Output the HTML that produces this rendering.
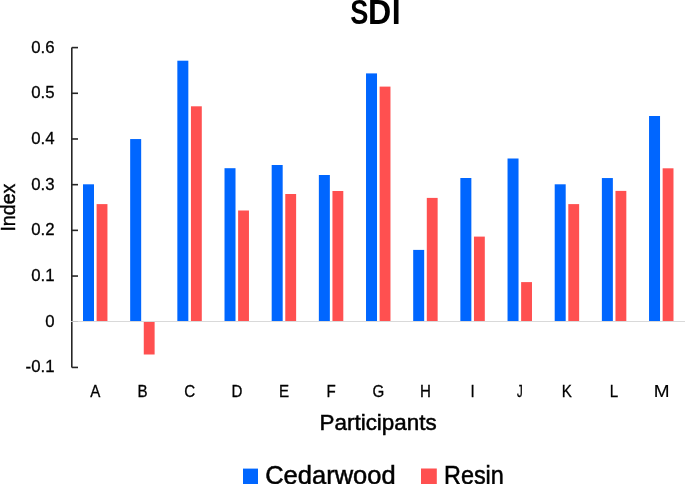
<!DOCTYPE html>
<html><head><meta charset="utf-8"><style>
html,body{margin:0;padding:0;background:#fff;width:685px;height:484px;overflow:hidden}
svg{display:block;will-change:transform}
text{font-family:"Liberation Sans",sans-serif;fill:#000}
</style></head><body>
<svg width="685" height="484" viewBox="0 0 685 484">
<rect width="685" height="484" fill="#fff"/>
<g font-weight="bold" font-size="34.2"><text transform="translate(350.2,24.4) scale(0.795,1)">S</text><text transform="translate(368.1,24.4) scale(0.94,1)">D</text><text transform="translate(391.8,24.4) scale(0.94,1)">I</text></g>
<rect x="83.00" y="184.30" width="11.0" height="136.70" fill="#0066FF"/><rect x="96.60" y="204.10" width="10.85" height="116.90" fill="#FF5050"/><rect x="130.17" y="139.05" width="11.0" height="181.95" fill="#0066FF"/><rect x="143.77" y="322.00" width="10.85" height="32.50" fill="#FF5050"/><rect x="177.34" y="60.70" width="11.0" height="260.30" fill="#0066FF"/><rect x="190.94" y="106.30" width="10.85" height="214.70" fill="#FF5050"/><rect x="224.51" y="168.20" width="11.0" height="152.80" fill="#0066FF"/><rect x="238.11" y="210.50" width="10.85" height="110.50" fill="#FF5050"/><rect x="271.68" y="165.00" width="11.0" height="156.00" fill="#0066FF"/><rect x="285.28" y="194.00" width="10.85" height="127.00" fill="#FF5050"/><rect x="318.85" y="175.00" width="11.0" height="146.00" fill="#0066FF"/><rect x="332.45" y="191.00" width="10.85" height="130.00" fill="#FF5050"/><rect x="366.02" y="73.40" width="11.0" height="247.60" fill="#0066FF"/><rect x="379.62" y="86.60" width="10.85" height="234.40" fill="#FF5050"/><rect x="413.19" y="249.90" width="11.0" height="71.10" fill="#0066FF"/><rect x="426.79" y="197.90" width="10.85" height="123.10" fill="#FF5050"/><rect x="460.36" y="178.00" width="11.0" height="143.00" fill="#0066FF"/><rect x="473.96" y="236.60" width="10.85" height="84.40" fill="#FF5050"/><rect x="507.53" y="158.50" width="11.0" height="162.50" fill="#0066FF"/><rect x="521.13" y="282.10" width="10.85" height="38.90" fill="#FF5050"/><rect x="554.70" y="184.30" width="11.0" height="136.70" fill="#0066FF"/><rect x="568.30" y="204.10" width="10.85" height="116.90" fill="#FF5050"/><rect x="601.87" y="178.05" width="11.0" height="142.95" fill="#0066FF"/><rect x="615.47" y="190.90" width="10.85" height="130.10" fill="#FF5050"/><rect x="649.04" y="116.00" width="11.0" height="205.00" fill="#0066FF"/><rect x="662.64" y="168.30" width="10.85" height="152.70" fill="#FF5050"/>
<g stroke="#262626" stroke-width="1.6" fill="none" stroke-linecap="butt">
<line x1="71.8" y1="47.6" x2="71.8" y2="367.4"/>
<line x1="71.8" y1="47.60" x2="78" y2="47.60"/><line x1="71.8" y1="93.29" x2="78" y2="93.29"/><line x1="71.8" y1="138.98" x2="78" y2="138.98"/><line x1="71.8" y1="184.67" x2="78" y2="184.67"/><line x1="71.8" y1="230.36" x2="78" y2="230.36"/><line x1="71.8" y1="276.05" x2="78" y2="276.05"/><line x1="71.8" y1="367.43" x2="78" y2="367.43"/>
</g>
<line x1="71" y1="321.5" x2="685" y2="321.5" stroke="#D9D9D9" stroke-width="1"/>
<line x1="71" y1="321.5" x2="78" y2="321.5" stroke="#C4C4C4" stroke-width="1"/>
<g font-size="16.8" stroke="#000" stroke-width="0.3">
<text x="54.5" y="52.60" text-anchor="end">0.6</text><text x="54.5" y="98.29" text-anchor="end">0.5</text><text x="54.5" y="143.98" text-anchor="end">0.4</text><text x="54.5" y="189.67" text-anchor="end">0.3</text><text x="54.5" y="235.36" text-anchor="end">0.2</text><text x="54.5" y="281.05" text-anchor="end">0.1</text><text x="54.5" y="326.74" text-anchor="end">0</text><text x="54.5" y="372.43" text-anchor="end">-0.1</text>
<text transform="translate(95.40,397) scale(0.9,1)" text-anchor="middle">A</text><text transform="translate(142.55,397) scale(0.9,1)" text-anchor="middle">B</text><text transform="translate(189.70,397) scale(0.9,1)" text-anchor="middle">C</text><text transform="translate(236.85,397) scale(0.9,1)" text-anchor="middle">D</text><text transform="translate(284.00,397) scale(0.9,1)" text-anchor="middle">E</text><text transform="translate(331.15,397) scale(0.9,1)" text-anchor="middle">F</text><text transform="translate(378.30,397) scale(0.9,1)" text-anchor="middle">G</text><text transform="translate(425.45,397) scale(0.9,1)" text-anchor="middle">H</text><text transform="translate(472.60,397) scale(0.9,1)" text-anchor="middle">I</text><text transform="translate(519.75,397) scale(0.68,1)" text-anchor="middle">J</text><text transform="translate(566.90,397) scale(0.9,1)" text-anchor="middle">K</text><text transform="translate(614.05,397) scale(0.9,1)" text-anchor="middle">L</text><text transform="translate(661.70,397) scale(1.13,1)" text-anchor="middle" stroke-width="0.15">M</text>
</g>
<text transform="translate(14.8,231.6) rotate(-90)" font-size="19.5" stroke="#000" stroke-width="0.4" textLength="48" lengthAdjust="spacingAndGlyphs">Index</text>
<text x="319.6" y="430.4" font-size="22" stroke="#000" stroke-width="0.5" textLength="117" lengthAdjust="spacingAndGlyphs">Participants</text>
<rect x="243" y="468.6" width="15" height="16" fill="#0066FF"/>
<text x="265.2" y="483.6" font-size="25" stroke="#000" stroke-width="0.5" textLength="130.4" lengthAdjust="spacingAndGlyphs">Cedarwood</text>
<rect x="421" y="468.5" width="15.8" height="16" fill="#FF5050"/>
<text x="444" y="483.6" font-size="25" stroke="#000" stroke-width="0.5" textLength="59.8" lengthAdjust="spacingAndGlyphs">Resin</text>
</svg>
</body></html>
